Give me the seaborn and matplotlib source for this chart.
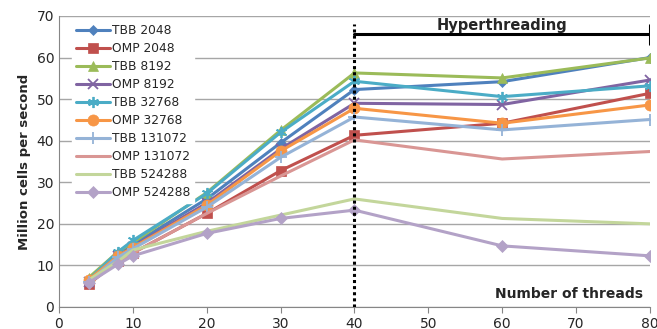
import numpy as np
import pandas as pd
import matplotlib
matplotlib.use("Agg")
import matplotlib.pyplot as plt
import seaborn as sns

threads = [4, 8, 10, 20, 30, 40, 60, 80]

series_names = ["TBB 2048", "OMP 2048", "TBB 8192", "OMP 8192", "TBB 32768",
                "OMP 32768", "TBB 131072", "OMP 131072", "TBB 524288", "OMP 524288"]

tbb_2048 = [6.5, 13.0, 15.0, 26.0, 39.5, 52.3, 54.2, 60.0]
omp_2048 = [5.5, 11.0, 13.0, 22.5, 32.8, 41.3, 44.2, 51.4]
tbb_8192 = [7.0, 13.3, 15.5, 27.5, 42.5, 56.3, 55.1, 59.9]
omp_8192 = [6.0, 12.3, 14.5, 25.0, 38.0, 49.0, 48.7, 54.6]
tbb_32768 = [6.5, 13.3, 16.0, 27.3, 42.0, 54.3, 50.6, 53.2]
omp_32768 = [6.5, 12.3, 14.3, 24.5, 37.5, 47.8, 44.2, 48.6]
tbb_131072 = [6.0, 12.0, 14.0, 24.0, 36.0, 45.7, 42.6, 45.1]
omp_131072 = [6.0, 11.0, 13.0, 22.5, 31.5, 40.2, 35.6, 37.4]
tbb_524288 = [6.5, 11.0, 13.7, 18.2, 22.1, 26.0, 21.3, 20.0]
omp_524288 = [5.8, 10.3, 12.3, 17.7, 21.3, 23.3, 14.7, 12.3]

values = [tbb_2048, omp_2048, tbb_8192, omp_8192, tbb_32768,
          omp_32768, tbb_131072, omp_131072, tbb_524288, omp_524288]

colors = ["#4F81BD", "#C0504D", "#9BBB59", "#8064A2", "#4BACC6",
          "#F79646", "#95B3D7", "#D99694", "#C3D69B", "#B3A2C7"]
markers = ["D", "s", "^", "x", (6, 2, 0), "o", "+", None, None, "D"]
msizes = [5, 7, 7, 7, 8, 8, 9, 0, 0, 6]

df = pd.DataFrame({
    "threads": threads * len(series_names),
    "mcells": np.concatenate(values),
    "series": np.repeat(series_names, len(threads)),
})

sns.set_style("white")
plt.rcParams["font.family"] = ["DejaVu Sans"]

fig = plt.figure(figsize=(6.57, 3.29), dpi=100)
ax = fig.add_axes([0.0898, 0.0669, 0.8994, 0.8845])

for name, col, mk, ms in zip(series_names, colors, markers, msizes):
    sub = df[df["series"] == name]
    sns.lineplot(data=sub, x="threads", y="mcells", ax=ax, color=col,
                 marker=mk, markersize=ms, markeredgecolor=col,
                 markeredgewidth=1.3 if mk in ("x", "+", (6, 2, 0)) else 0.5,
                 linewidth=2.2, label=name, zorder=3)

ax.set_xlim(0, 80)
ax.set_ylim(0, 70)
ax.set_xticks(range(0, 81, 10))
ax.set_yticks(range(0, 71, 10))
ax.grid(axis="y", color="#a6a6a6", linewidth=1)
ax.set_axisbelow(True)
for s in ["top", "right"]:
    ax.spines[s].set_visible(False)
for s in ["left", "bottom"]:
    ax.spines[s].set_color("#868686")
ax.tick_params(axis="x", length=4, color="#868686", direction="out", labelsize=10, bottom=True)
ax.tick_params(axis="y", length=0, labelsize=10)
ax.set_xlabel("")
ax.set_ylabel("Million cells per second", fontweight="bold", fontsize=9.5)

# hyperthreading marker
ax.plot([40, 40], [0, 68], color="black", linestyle=(0, (1, 1)), linewidth=2.2, zorder=4)
ax.plot([40, 80], [65.6, 65.6], color="black", linewidth=2.2, zorder=4)
ax.plot([80, 80], [63.3, 67.8], color="black", linewidth=2.2, zorder=4)
ax.text(60, 66.0, "Hyperthreading", ha="center", va="bottom", fontweight="bold", fontsize=10.5)
ax.text(79, 1.5, "Number of threads", ha="right", va="bottom", fontweight="bold", fontsize=10)

leg = ax.legend(loc="upper left", bbox_to_anchor=(0.012, 1.005), frameon=True, fontsize=8.8,
                handlelength=2.8, labelspacing=0.41, handletextpad=0.15, borderpad=0.3,
                fancybox=False)
leg.get_frame().set_edgecolor("white")
leg.get_frame().set_facecolor("white")
leg.get_frame().set_alpha(1)
leg.set_zorder(5)

fig.savefig("out.png", dpi=100)
